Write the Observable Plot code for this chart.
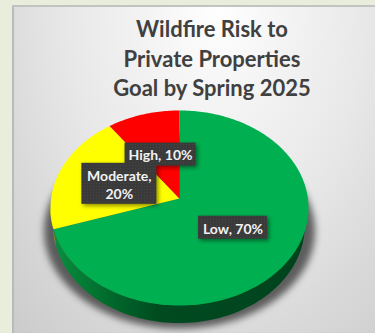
<!DOCTYPE html>
<html>
<head>
<meta charset="utf-8">
<script src="https://cdn.jsdelivr.net/npm/d3@7"></script>
<script src="https://cdn.jsdelivr.net/npm/@observablehq/plot@0.6"></script>
<style>
  html, body { margin: 0; width: 375px; height: 333px; overflow: hidden; background: #e9eddc; }
  #panel {
    position: absolute; left: 12px; top: 5px; width: 363px; height: 328px; overflow: hidden;
    background: radial-gradient(ellipse 300px 460px at 205px -5px,
      #ffffff 0%, #f3f3f3 25%, #e8e8e8 50%, #d9d9d9 75%, #cbcbcb 100%, #c4c4c4 130%);
    box-shadow: inset 0 2px 0 #c2c2c2, inset 2px 0 1px #b9b9b9;
  }
  #title {
    position: absolute; left: 38px; top: 9px; width: 324px; text-align: center;
    font: bold 22px/29.5px Lato, sans-serif; color: #404040;
  }
  #chart { position: absolute; left: -12px; top: 100px; }
  #chart svg { display: block; background: none; }
</style>
</head>
<body>
<div id="panel">
  <div id="title">Wildfire Risk to<br>Private Properties<br>Goal by Spring 2025</div>
  <div id="chart"></div>
</div>
<script>
// Risk categories, in drawing order clockwise from twelve o'clock
const categories = ["Low", "Moderate", "High"];
const shares = [70, 20, 10];
const faceColors = ["#00b050", "#ffff00", "#ff0000"];
const labelLines = ["Low, 70%", "Moderate,\n20%", "High, 10%"];
const rimColors = {Low: "url(#rim-low)", Moderate: "#b2b200"};

// Tilted-disc view: the near edge is drawn larger than the far edge,
// and the lower rim edge narrows slightly toward the vanishing point
const view = {cx: 179, cy: 198, a: 128.4, b: 96.6, k: 0.0975, depth: 18, taper: 0.975};
const rad = (t) => (t * Math.PI) / 180;
function project(t, r = 1) {
  const u = r * Math.sin(rad(t));
  const v = r * Math.cos(rad(t));
  const f = 1 + view.k * v;
  return {x: view.cx + (view.a * u) / f, y: view.cy - (view.b * v) / f};
}

// Wedges from the share values
let running = 0;
const wedges = categories.map((name, i) => {
  const start = (running / d3.sum(shares)) * 360;
  running += shares[i];
  const end = (running / d3.sum(shares)) * 360;
  return {name, start, end, mid: (start + end) / 2, label: labelLines[i]};
});

const faceOutline = wedges.flatMap((w) => [
  {name: w.name, x: view.cx, y: view.cy},
  ...d3.range(w.start, w.end + 0.5, 1).map((t) => ({name: w.name, ...project(t)}))
]);

// Visible rim between the two silhouette tangents, one band per wedge
const rim = wedges.flatMap((w) =>
  d3.range(Math.max(w.start, 96), Math.min(w.end, 264) + 0.5, 1).map((t) => {
    const p = project(t);
    return {
      name: w.name,
      x1: p.x,
      y1: p.y,
      x2: view.cx + (p.x - view.cx) * view.taper,
      y2: p.y + view.depth
    };
  })
);

// Soft shadow under the disc
const shadow = d3.range(0, 361, 3).map((t) => {
  const p = project(t);
  return {x: view.cx + (p.x - view.cx) * 1.05, y: p.y + 23};
});

// Data labels sit half way along each wedge's middle radius
const labelSize = {Low: [69, 23], Moderate: [75, 41], High: [71, 23]};
const labels = [wedges[0], wedges[2], wedges[1]].map((w) => ({
  ...w,
  ...project(w.mid, 0.5),
  size: labelSize[w.name]
}));

const chart = Plot.plot({
  width: 375,
  height: 233,
  margin: 0,
  x: {domain: [0, 375], range: [0, 375], axis: null},
  y: {domain: [105, 338], range: [0, 233], axis: null},
  color: {domain: categories, range: faceColors},
  style: {background: "none"},
  marks: [
    Plot.line(shadow, {
      x: "x", y: "y", fill: "#3c3c3c", stroke: "none", fillOpacity: 0.8,
      imageFilter: "blur(3.5px)"
    }),
    Plot.area(rim, {
      x1: "x1", y1: "y1", x2: "x2", y2: "y2", z: "name",
      fill: {value: (d) => rimColors[d.name], scale: null}
    }),
    Plot.line(faceOutline, {
      x: "x", y: "y", z: "name",
      fill: "name", stroke: "none"
    }),
    Plot.rect(labels, {
      x1: (d) => d.x - d.size[0] / 2,
      x2: (d) => d.x + d.size[0] / 2,
      y1: (d) => d.y - d.size[1] / 2,
      y2: (d) => d.y + d.size[1] / 2,
      fill: "url(#label-dots)",
      imageFilter: "drop-shadow(2px 2px 2px rgba(0,0,0,0.45))"
    }),
    Plot.text(labels, {
      x: "x", y: "y", text: "label",
      fill: "#f2f2f2", fontFamily: "Lato, sans-serif", fontWeight: 700, fontSize: 14,
      lineHeight: 1.3
    })
  ]
});

// Rim shading and the fine dotted texture on the label boxes
const ns = "http://www.w3.org/2000/svg";
const defs = document.createElementNS(ns, "defs");
defs.innerHTML = `
  <linearGradient id="rim-low" x1="0" x2="1" y1="0" y2="0">
    <stop offset="0" stop-color="#0a8f3f"/>
    <stop offset="0.22" stop-color="#006a2c"/>
    <stop offset="0.42" stop-color="#004a20"/>
    <stop offset="1" stop-color="#00431d"/>
  </linearGradient>
  <pattern id="label-dots" width="3" height="3" patternUnits="userSpaceOnUse">
    <rect width="3" height="3" fill="#3a3a3a"/><rect width="1" height="1" fill="#464646"/>
  </pattern>`;
chart.prepend(defs);
document.getElementById("chart").append(chart);
</script>
</body>
</html>
